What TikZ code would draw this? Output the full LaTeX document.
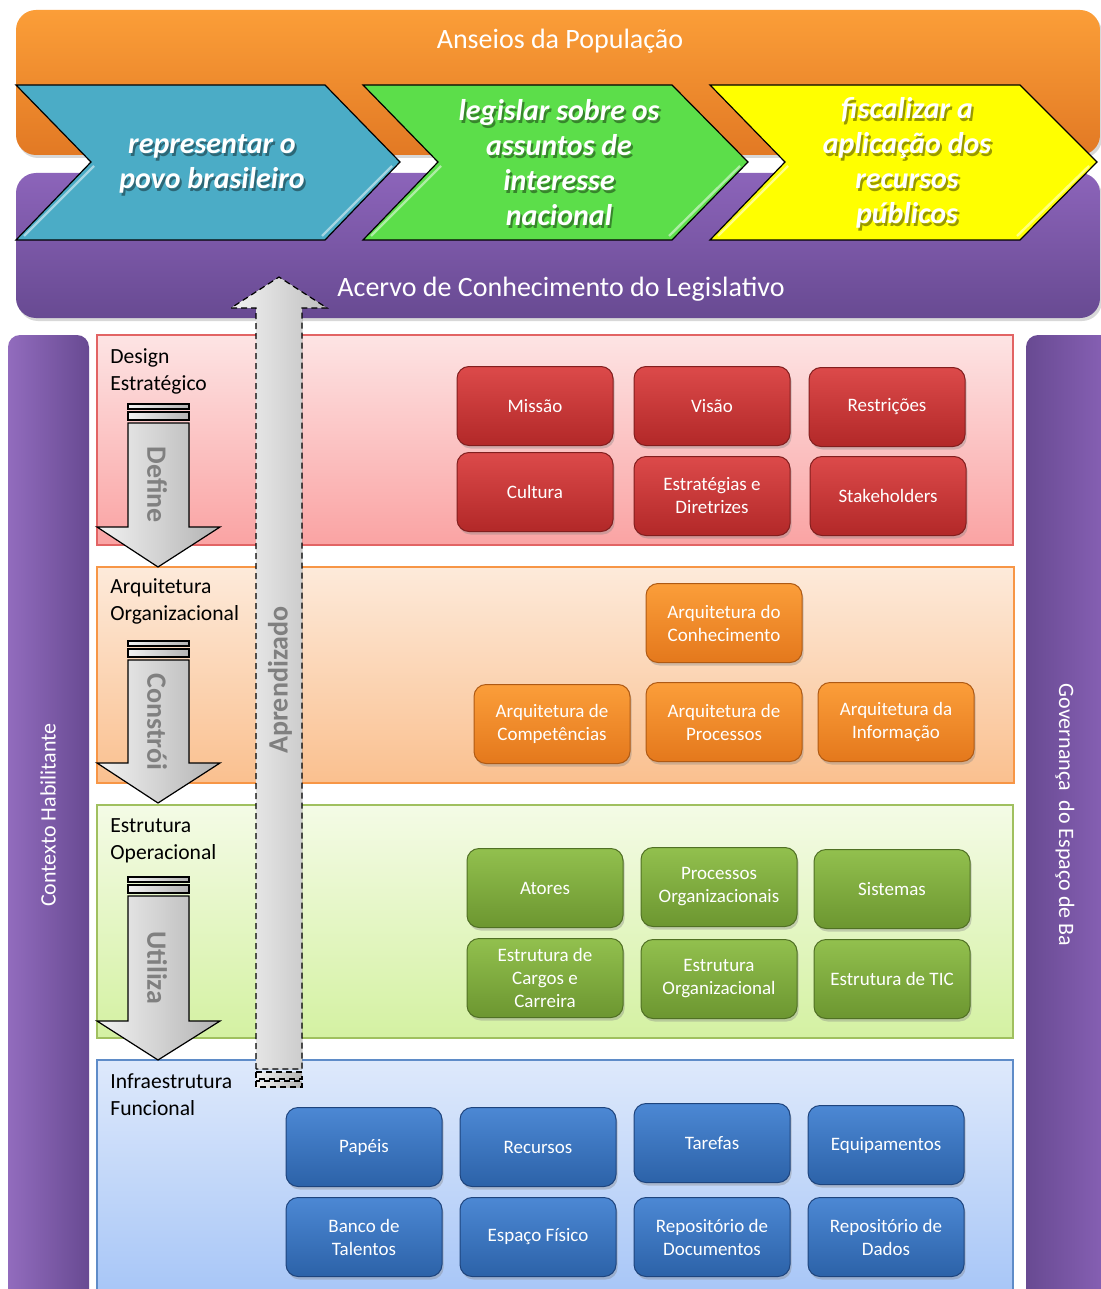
\documentclass[tikz,border=0pt]{standalone}
\usepackage{fontspec}
\setmainfont{Carlito}
\usepackage{xcolor}
\usetikzlibrary{shadows}

% band and layer colours
\definecolor{bandOrangeA}{RGB}{251,158,56}
\definecolor{bandOrangeB}{RGB}{226,121,36}
\definecolor{bandPurpleA}{RGB}{140,100,186}
\definecolor{bandPurpleB}{RGB}{104,74,146}
\definecolor{chevBlue}{RGB}{75,172,198}
\definecolor{chevGreen}{RGB}{92,222,74}
\definecolor{chevYellow}{RGB}{255,255,0}
\definecolor{layRedA}{RGB}{253,228,228}
\definecolor{layRedB}{RGB}{250,163,163}
\definecolor{layRedD}{RGB}{226,100,100}
\definecolor{layOrgA}{RGB}{253,234,218}
\definecolor{layOrgB}{RGB}{250,192,143}
\definecolor{layOrgD}{RGB}{247,150,70}
\definecolor{layGrnA}{RGB}{244,251,230}
\definecolor{layGrnB}{RGB}{212,241,162}
\definecolor{layGrnD}{RGB}{160,192,95}
\definecolor{layBluA}{RGB}{222,233,251}
\definecolor{layBluB}{RGB}{166,197,247}
\definecolor{layBluD}{RGB}{95,140,200}
% tile colours
\definecolor{tileRedA}{RGB}{220,74,74}
\definecolor{tileRedB}{RGB}{178,40,40}
\definecolor{tileRedD}{RGB}{130,30,30}
\definecolor{tileOrgA}{RGB}{251,158,58}
\definecolor{tileOrgB}{RGB}{228,120,28}
\definecolor{tileOrgD}{RGB}{175,90,20}
\definecolor{tileGrnA}{RGB}{146,192,78}
\definecolor{tileGrnB}{RGB}{108,150,48}
\definecolor{tileGrnD}{RGB}{80,112,36}
\definecolor{tileBluA}{RGB}{76,136,212}
\definecolor{tileBluB}{RGB}{44,98,168}
\definecolor{tileBluD}{RGB}{30,68,125}

\begin{document}
\begin{tikzpicture}[x=0.5pt,y=-0.5pt,
  bandtext/.style={text=white, font=\fontsize{14}{16}\selectfont},
  chevron/.style={draw=black, line width=0.6pt},
  chevtext/.style={align=center, text=white, font=\fontsize{15}{17.5}\selectfont\bfseries\itshape},
  chevshadow/.style={chevtext, text=black, opacity=0.4},
  layer/.style={line width=0.7pt},
  layerlabel/.style={anchor=north west, align=left, inner sep=0pt, font=\fontsize{10.8}{13.5}\selectfont},
  sidetext/.style={text=white, font=\fontsize{11}{13}\selectfont},
  flowarrow/.style={draw=black, line width=0.6pt, left color=black!5, right color=black!30},
  flowtext/.style={text=black!50, font=\fontsize{14}{16}\selectfont\bfseries},
  tile/.style={rounded corners=6pt, minimum width=78pt, minimum height=39.5pt,
    align=center, inner sep=2pt, text=white, font=\fontsize{9.5}{11.5}\selectfont,
    line width=0.5pt, drop shadow={shadow xshift=0.8pt, shadow yshift=-1.5pt, opacity=0.35}},
  redtile/.style={tile, draw=tileRedD, top color=tileRedA, bottom color=tileRedB},
  orgtile/.style={tile, draw=tileOrgD, top color=tileOrgA, bottom color=tileOrgB},
  grntile/.style={tile, draw=tileGrnD, top color=tileGrnA, bottom color=tileGrnB},
  blutile/.style={tile, draw=tileBluD, top color=tileBluA, bottom color=tileBluB},
]
\useasboundingbox[fill=white] (0,0) rectangle (1100,1289);

% top bands
\shade[top color=bandOrangeA, bottom color=bandOrangeB, rounded corners=10pt,
  drop shadow={shadow xshift=1pt, shadow yshift=-1.5pt, opacity=0.3}]
  (16,10) rectangle (1100,155);
\node[bandtext] (anseios) at (560,41) {Anseios da População};

\shade[top color=bandPurpleA, bottom color=bandPurpleB, rounded corners=10pt,
  drop shadow={shadow xshift=1pt, shadow yshift=-1.5pt, opacity=0.3}]
  (16,173) rectangle (1100,318);
\node[bandtext] (acervo) at (561,289) {Acervo de Conhecimento do Legislativo};

% chevrons
\filldraw[chevron, fill=chevBlue]
  (16,85) -- (325,85) -- (400,162) -- (325,240) -- (16,240) -- (91,162) -- cycle;
\filldraw[chevron, fill=chevGreen]
  (363,85) -- (672,85) -- (748,162) -- (672,240) -- (363,240) -- (438,162) -- cycle;
\filldraw[chevron, fill=chevYellow]
  (710,85) -- (1020,85) -- (1097,162) -- (1020,240) -- (710,240) -- (785,162) -- cycle;
\draw[white, opacity=0.5, line width=1.2pt] (24,236) -- (94,166) (322,236) -- (392,166);
\draw[white, opacity=0.5, line width=1.2pt] (371,236) -- (441,166) (669,236) -- (740,166);
\draw[white, opacity=0.5, line width=1.2pt] (718,236) -- (788,166) (1017,236) -- (1089,166);

\node[chevshadow] (repr-sh) at (214,166.5) {representar o\\povo brasileiro};
\node[chevtext] (repr) at (212,164) {representar o\\povo brasileiro};
\node[chevshadow] (legis-sh) at (561,165.5) {legislar sobre os\\assuntos de\\interesse\\nacional};
\node[chevtext] (legis) at (559,163) {legislar sobre os\\assuntos de\\interesse\\nacional};
\node[chevshadow] (fisc-sh) at (909,165.5) {fiscalizar a\\aplicação dos\\recursos\\públicos};
\node[chevtext] (fisc) at (907,163) {fiscalizar a\\aplicação dos\\recursos\\públicos};

% side bars
\shade[left color=bandPurpleA!95!white, right color=bandPurpleB, rounded corners=6pt]
  (8,335) rectangle (89,1310);
\node[sidetext, rotate=90] (contexto) at (48,815) {Contexto Habilitante};
\shade[left color=bandPurpleB, right color=bandPurpleA, rounded corners=6pt]
  (1026,335) rectangle (1120,1310);
\node[sidetext, rotate=-90] (governanca) at (1065,815) {Governança\ \ do Espaço de Ba};

% layers
\shade[top color=layRedA, bottom color=layRedB] (97,335) rectangle (1013,545);
\draw[layer, layRedD] (97,335) rectangle (1013,545);
\node[layerlabel] (design) at (110,348) {Design\\Estratégico};

\shade[top color=layOrgA, bottom color=layOrgB] (97,567) rectangle (1014,783);
\draw[layer, layOrgD] (97,567) rectangle (1014,783);
\node[layerlabel] (arquitetura) at (110,578) {Arquitetura\\Organizacional};

\shade[top color=layGrnA, bottom color=layGrnB] (97,805) rectangle (1013,1038);
\draw[layer, layGrnD] (97,805) rectangle (1013,1038);
\node[layerlabel] (estrutura) at (110,818) {Estrutura\\Operacional};

\shade[top color=layBluA, bottom color=layBluB] (97,1060) rectangle (1013,1300);
\draw[layer, layBluD] (97,1060) rectangle (1013,1300);
\node[layerlabel] (infra) at (110,1073) {Infraestrutura\\Funcional};

% down arrows between layers
\foreach \yt/\yh/\yp/\yl/\lbl in {404/527/567/485/Define, 641/763/803/722/Constrói, 877/1021/1060/968/Utiliza} {
  \filldraw[flowarrow] (128,\yt) rectangle (189,\yt+5);
  \filldraw[flowarrow] (128,\yt+8) rectangle (189,\yt+16);
  \filldraw[flowarrow] (128,\yt+19) -- (189,\yt+19) -- (189,\yh) -- (220,\yh)
    -- (158,\yp) -- (97,\yh) -- (128,\yh) -- cycle;
  \node[flowtext, rotate=-90] (lbl-\yt) at (157,\yl) {\lbl};
}

% learning arrow, up to the knowledge band
\filldraw[flowarrow, dash pattern=on 3pt off 2pt, left color=black!5, right color=black!25]
  (256,1069) -- (256,308) -- (231,308) -- (279,277) -- (327,308) -- (302,308)
  -- (302,1069) -- cycle;
\filldraw[flowarrow, dash pattern=on 3pt off 2pt] (256,1072) rectangle (302,1079);
\filldraw[flowarrow, dash pattern=on 3pt off 2pt] (256,1081) rectangle (302,1087);
\node[flowtext, rotate=90] (aprendizado) at (280,680) {Aprendizado};

% Design Estrategico
\node[redtile] (missao) at (535,406) {Missão};
\node[redtile] (visao) at (712,406) {Visão};
\node[redtile] (restricoes) at (887,407) {Restrições};
\node[redtile] (cultura) at (535,492) {Cultura};
\node[redtile] (estrategias) at (712,496) {Estratégias e\\Diretrizes};
\node[redtile] (stakeholders) at (888,496) {Stakeholders};

% Arquitetura Organizacional
\node[orgtile] (arqconh) at (724,623) {Arquitetura do\\Conhecimento};
\node[orgtile] (arqcomp) at (552,724) {Arquitetura de\\Competências};
\node[orgtile] (arqproc) at (724,722) {Arquitetura de\\Processos};
\node[orgtile] (arqinfo) at (896,722) {Arquitetura da\\Informação};

% Estrutura Operacional
\node[grntile] (atores) at (545,888) {Atores};
\node[grntile] (procorg) at (719,887) {Processos\\Organizacionais};
\node[grntile] (sistemas) at (892,889) {Sistemas};
\node[grntile] (cargos) at (545,978) {Estrutura de\\Cargos e\\Carreira};
\node[grntile] (estorg) at (719,979) {Estrutura\\Organizacional};
\node[grntile] (esttic) at (892,979) {Estrutura de TIC};

% Infraestrutura Funcional
\node[blutile] (papeis) at (364,1147) {Papéis};
\node[blutile] (recursos) at (538,1147) {Recursos};
\node[blutile] (tarefas) at (712,1143) {Tarefas};
\node[blutile] (equip) at (886,1145) {Equipamentos};
\node[blutile] (talentos) at (364,1237) {Banco de\\Talentos};
\node[blutile] (espaco) at (538,1237) {Espaço Físico};
\node[blutile] (repdoc) at (712,1237) {Repositório de\\Documentos};
\node[blutile] (repdados) at (886,1237) {Repositório de\\Dados};
\end{tikzpicture}
\end{document}
